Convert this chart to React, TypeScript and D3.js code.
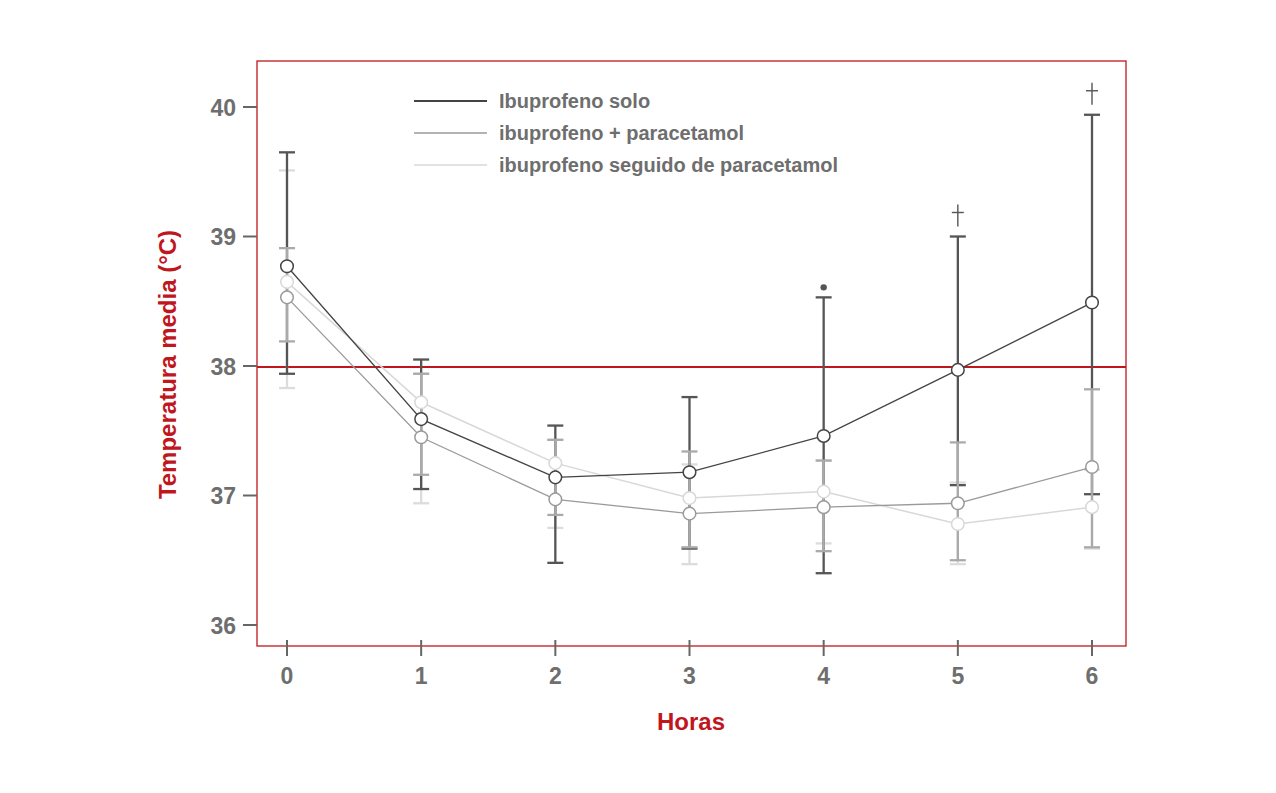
import React from "react";
import * as d3 from "d3";

// horas de medición
const hours = [0, 1, 2, 3, 4, 5, 6];
const yTicks = [36, 37, 38, 39, 40];

// Ibuprofeno solo
const soloMean = [38.77, 37.59, 37.14, 37.18, 37.46, 37.97, 38.49];
const soloLow = [37.94, 37.05, 36.48, 36.59, 36.4, 37.08, 37.01];
const soloHigh = [39.65, 38.05, 37.54, 37.76, 38.53, 39.0, 39.94];

// ibuprofeno + paracetamol
const combMean = [38.53, 37.45, 36.97, 36.86, 36.91, 36.94, 37.22];
const combLow = [38.19, 37.16, 36.85, 36.6, 36.57, 36.5, 36.6];
const combHigh = [38.91, 37.94, 37.43, 37.34, 37.27, 37.41, 37.82];

// ibuprofeno seguido de paracetamol
const seqMean = [38.65, 37.72, 37.25, 36.98, 37.03, 36.78, 36.91];
const seqLow = [37.83, 36.94, 36.75, 36.47, 36.63, 36.47, 36.59];
const seqHigh = [39.51, 37.94, 37.43, 37.24, 37.27, 37.1, 37.2];

const legendLabels = [
  "Ibuprofeno solo",
  "ibuprofeno + paracetamol",
  "ibuprofeno seguido de paracetamol",
];

// marcas de significación sobre la serie "solo"
const dotHours = [4];
const daggerHours = [5, 6];

const RED = "#c0161d";
const FONT = "'Liberation Sans', Arial, sans-serif";

export default function App() {
  const width = 1276,
    height = 793;
  const frame = { left: 257, top: 61, right: 1126, bottom: 646 };

  const x = d3.scaleLinear().domain([0, 6]).range([287, 1092]);
  const y = d3.scaleLinear().domain([36, 40]).range([625, 107]);

  const series = [
    { name: legendLabels[0], mean: soloMean, low: soloLow, high: soloHigh, bar: "#555", line: "#444", lw: 1.3, legW: 2.2 },
    { name: legendLabels[1], mean: combMean, low: combLow, high: combHigh, bar: "#aaa", line: "#9a9a9a", lw: 1.3, legW: 1.6 },
    { name: legendLabels[2], mean: seqMean, low: seqLow, high: seqHigh, bar: "#dcdcdc", line: "#d8d8d8", lw: 1.5, legW: 1.6 },
  ];
  // orden de dibujo de las barras: claro, oscuro, medio
  const barOrder = [series[2], series[0], series[1]];
  const lineOrder = [series[2], series[1], series[0]];

  const line = (vals: number[]) =>
    d3.line<number>().x((_, i) => x(hours[i])).y((d) => y(d))(vals) || "";

  return (
    <svg width={width} height={height} style={{ position: "absolute", left: 0, top: 0, background: "#fff" }}>
      {/* marco */}
      <rect
        x={frame.left}
        y={frame.top}
        width={frame.right - frame.left}
        height={frame.bottom - frame.top}
        fill="none"
        stroke={RED}
        strokeWidth={1.3}
      />

      {/* eje y */}
      {yTicks.map((t) => (
        <g key={"y" + t}>
          <line x1={243} x2={frame.left} y1={y(t)} y2={y(t)} stroke="#666" strokeWidth={2} />
          <text x={236} y={y(t) + 8.5} textAnchor="end" fontFamily={FONT} fontWeight="bold" fontSize={23} fill="#6e6e6e">
            {t}
          </text>
        </g>
      ))}

      {/* eje x */}
      {hours.map((h) => (
        <g key={"x" + h}>
          <line x1={x(h)} x2={x(h)} y1={frame.bottom - 6} y2={frame.bottom + 10} stroke="#666" strokeWidth={2} />
          <text x={x(h)} y={684} textAnchor="middle" fontFamily={FONT} fontWeight="bold" fontSize={23} fill="#6e6e6e">
            {h}
          </text>
        </g>
      ))}

      {/* línea de 38 °C */}
      <line x1={frame.left} x2={frame.right} y1={y(38) + 1} y2={y(38) + 1} stroke={RED} strokeWidth={2} />

      {/* barras de error */}
      {barOrder.map((s) =>
        hours.map((h, i) => (
          <g key={s.name + "bar" + h} stroke={s.bar} strokeWidth={2.3}>
            <line x1={x(h)} x2={x(h)} y1={y(s.low[i])} y2={y(s.high[i])} />
            <line x1={x(h) - 8} x2={x(h) + 8} y1={y(s.low[i])} y2={y(s.low[i])} />
            <line x1={x(h) - 8} x2={x(h) + 8} y1={y(s.high[i])} y2={y(s.high[i])} />
          </g>
        ))
      )}

      {/* líneas */}
      {lineOrder.map((s) => (
        <path key={s.name + "line"} d={line(s.mean)} fill="none" stroke={s.line} strokeWidth={s.lw} />
      ))}

      {/* puntos */}
      {lineOrder.map((s) =>
        hours.map((h, i) => (
          <circle
            key={s.name + "pt" + h}
            cx={x(h)}
            cy={y(s.mean[i])}
            r={6.3}
            fill="#fff"
            stroke={s.line}
            strokeWidth={1.5}
          />
        ))
      )}

      {/* marcas de significación */}
      {dotHours.map((h) => (
        <circle key={"dot" + h} cx={x(h)} cy={y(soloHigh[h]) - 10} r={3.2} fill="#555" />
      ))}
      {daggerHours.map((h) => {
        const cy = y(soloHigh[h]);
        return (
          <g key={"dag" + h} stroke="#555" strokeWidth={1.4}>
            <line x1={x(h)} x2={x(h)} y1={cy - 32} y2={cy - 10} />
            <line x1={x(h) - 6} x2={x(h) + 6} y1={cy - 24} y2={cy - 24} />
          </g>
        );
      })}

      {/* leyenda */}
      {series.map((s, i) => (
        <g key={s.name + "leg"}>
          <line x1={414} x2={487} y1={101 + i * 32} y2={101 + i * 32} stroke={s.line} strokeWidth={s.legW} />
          <text x={499} y={108 + i * 32} fontFamily={FONT} fontWeight="bold" fontSize={20} fill="#6e6e6e">
            {s.name}
          </text>
        </g>
      ))}

      {/* títulos de ejes */}
      <text x={691} y={730} textAnchor="middle" fontFamily={FONT} fontWeight="bold" fontSize={24} fill={RED}>
        Horas
      </text>
      <text
        transform={`translate(176, ${(frame.top + frame.bottom) / 2 + 11}) rotate(-90)`}
        textAnchor="middle"
        fontFamily={FONT}
        fontWeight="bold"
        fontSize={24}
        fill={RED}
      >
        Temperatura media (°C)
      </text>
    </svg>
  );
}
